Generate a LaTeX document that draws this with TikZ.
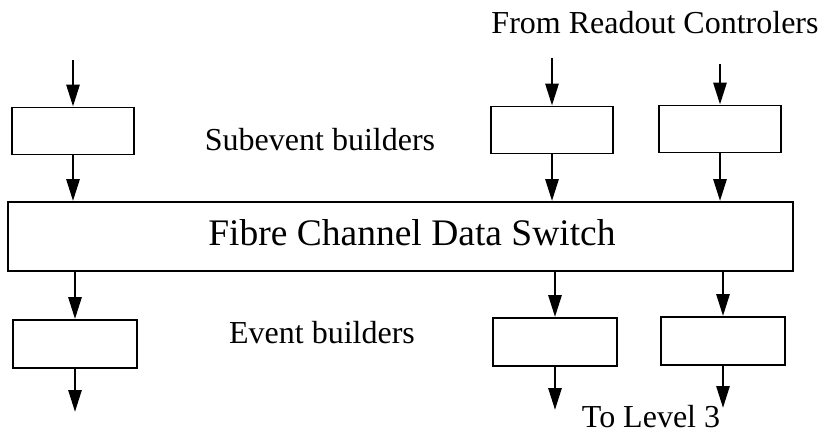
\documentclass[tikz,border=0pt]{standalone}
\usepackage{fontspec}
\setmainfont{Liberation Serif}
\usetikzlibrary{arrows.meta}

\begin{document}
\begin{tikzpicture}[x=1pt,y=-1pt,
  unit/.style={draw=black,line width=1.8pt,minimum width=122pt,minimum height=47pt,inner sep=0pt},
  switchbox/.style={draw=black,line width=1.8pt,minimum width=785pt,minimum height=69pt,inner sep=0pt},
  lbl/.style={anchor=base,inner sep=0pt,font=\fontsize{32}{36}\selectfont},
  flow/.style={line width=2.8pt,-{Triangle[length=22pt,width=13pt]}}]
\useasboundingbox (0,0) rectangle (824,434);
\node [unit] (sb1) at (73,131) {};
\node [unit] (sb2) at (552,130) {};
\node [unit] (sb3) at (720,129) {};
\node [switchbox] (sw) at (400.5,236.5) {};
\node [unit,minimum width=124pt,minimum height=48pt] (eb1) at (75,344) {};
\node [unit,minimum width=124pt,minimum height=48pt] (eb2) at (555,342) {};
\node [unit,minimum width=124pt,minimum height=48pt] (eb3) at (723,341) {};
\coordinate (in1) at (73,60);
\coordinate (in2) at (552,58);
\coordinate (in3) at (720,64);
\coordinate (out1) at (75,412);
\coordinate (out2) at (555,410);
\coordinate (out3) at (723,408);
\draw [flow] (in1) -- (sb1.north);
\draw [flow] (in2) -- (sb2.north);
\draw [flow] (in3) -- (sb3.north);
\draw [flow] (sb1.south) -- (sb1.south |- sw.north);
\draw [flow] (sb2.south) -- (sb2.south |- sw.north);
\draw [flow] (sb3.south) -- (sb3.south |- sw.north);
\draw [flow] (eb1.north |- sw.south) -- (eb1.north);
\draw [flow] (eb2.north |- sw.south) -- (eb2.north);
\draw [flow] (eb3.north |- sw.south) -- (eb3.north);
\draw [flow] (eb1.south) -- (out1);
\draw [flow] (eb2.south) -- (out2);
\draw [flow] (eb3.south) -- (out3);
\node [lbl,font=\fontsize{37.5}{42}\selectfont] (swtext) at (412,245) {Fibre Channel Data Switch};
\node [lbl] (from) at (655,33) {From Readout Controlers};
\node [lbl] (subev) at (320,150) {Subevent builders};
\node [lbl] (ev) at (322,343) {Event builders};
\node [lbl] (to) at (651,427) {To Level 3};
\end{tikzpicture}
\end{document}
